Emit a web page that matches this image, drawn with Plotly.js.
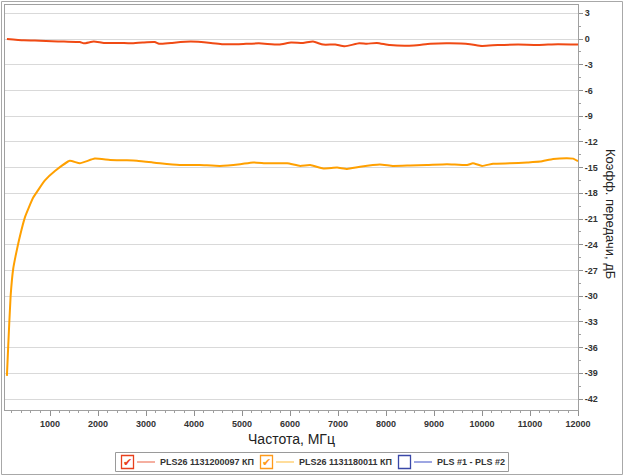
<!DOCTYPE html>
<html><head><meta charset="utf-8">
<script src="https://cdn.plot.ly/plotly-3.0.1.min.js"></script>
<style>html,body{margin:0;padding:0;background:#fff}</style>
</head><body><div id="chart" style="width:624px;height:476px"></div>
<script>
// Frequencies (MHz) and transfer coefficient (dB)
const freqRed = [100,450,790,1040,1290,1620,1700,1910,2120,2450,2680,2930,3180,3270,3520,3930,4350,4600,4930,5350,5770,6020,6270,6480,6690,6940,7140,7440,7600,7810,8080,8580,8920,9330,9750,10000,10330,10750,11170,11580,12000];
const gainRed = [0.0,-0.15,-0.2,-0.25,-0.3,-0.35,-0.5,-0.3,-0.45,-0.45,-0.5,-0.4,-0.35,-0.55,-0.45,-0.3,-0.45,-0.6,-0.6,-0.5,-0.65,-0.4,-0.45,-0.3,-0.65,-0.65,-0.85,-0.5,-0.55,-0.45,-0.7,-0.75,-0.55,-0.5,-0.6,-0.8,-0.7,-0.65,-0.7,-0.6,-0.65];

const freqOrange = [100,127,177,231,281,371,475,648,892,1100,1410,1620,1930,2250,2600,2810,3140,3290,3700,4120,4540,4960,5230,5520,5940,6210,6420,6690,6980,7190,7460,7870,8140,8500,8850,9270,9690,9810,10000,10230,10580,10940,11210,11480,11770,11900,12000];
const gainOrange = [-39.3,-35.8,-30.0,-26.8,-25.3,-23.0,-20.8,-18.5,-16.5,-15.4,-14.2,-14.5,-13.95,-14.1,-14.15,-14.2,-14.4,-14.5,-14.7,-14.7,-14.8,-14.6,-14.4,-14.5,-14.5,-14.8,-14.7,-15.1,-15.0,-15.15,-14.9,-14.65,-14.8,-14.75,-14.7,-14.6,-14.7,-14.5,-14.8,-14.55,-14.5,-14.4,-14.3,-14.0,-13.9,-13.95,-14.25];

const xTickVals = [1000,2000,3000,4000,5000,6000,7000,8000,9000,10000,11000,12000];
const xTickText = ['1000','2000','3000','4000','5000','6000','7000','8000','9000','10000','11000','12000'];
const yTickVals = [3,0,-3,-6,-9,-12,-15,-18,-21,-24,-27,-30,-33,-36,-39,-42];
const yTickText = ['3','0','-3','-6','-9','-12','-15','-18','-21','-24','-27','-30','-33','-36','-39','-42'];

const seriesNames = ['PLS26 1131200097 КП','PLS26 1131180011 КП','PLS #1 - PLS #2'];
const xTitle = 'Частота, МГц';
const yTitle = 'Коэфф. передачи, дБ';

const W=624,H=476,ML=5,MR=46,MT=5,MB=66;
const PW=W-ML-MR, PH=H-MT-MB;
const px=x=>(x-ML)/PW, py=y=>(H-MB-y)/PH;

const traces = [
 {x:freqRed,y:gainRed,mode:'lines',line:{color:'#F04A14',width:2,shape:'spline',smoothing:0.5},name:seriesNames[0],showlegend:false},
 {x:freqOrange,y:gainOrange,mode:'lines',line:{color:'#FFA000',width:2,shape:'spline',smoothing:0.4},name:seriesNames[1],showlegend:false}
];

const shapes = [
 {type:'rect',xref:'paper',yref:'paper',x0:px(1.5),x1:px(622.5),y0:py(474.5),y1:py(1.5),line:{color:'#a8a8a8',width:1}},
 {type:'rect',xref:'paper',yref:'paper',x0:px(115.5),x1:px(508.5),y0:py(471.5),y1:py(452.5),line:{color:'#9a9a9a',width:1},fillcolor:'#ffffff'}
];
const annotations = [
 {xref:'paper',yref:'paper',x:px(611),y:py(214),xanchor:'center',yanchor:'middle',text:yTitle,textangle:90,showarrow:false,font:{family:'Liberation Sans',size:13,color:'#222'}}
];
const items = [
 {cb:121,line:137,text:158,col:'#E8401C',lc:'#F29580',check:true},
 {cb:260,line:276,text:297,col:'#FF9A1A',lc:'#FFD27A',check:true},
 {cb:398,line:414,text:435,col:'#3A48A8',lc:'#7C88D8',check:false}
];
items.forEach((it,i)=>{
 shapes.push({type:'rect',xref:'paper',yref:'paper',x0:px(it.cb+0.5),x1:px(it.cb+12.5),y0:py(468.5),y1:py(455.5),line:{color:it.col,width:1.3}});
 shapes.push({type:'line',xref:'paper',yref:'paper',x0:px(it.line),x1:px(it.line+18),y0:py(462),y1:py(462),line:{color:it.lc,width:1.5}});
 if(it.check) annotations.push({xref:'paper',yref:'paper',x:px(it.cb+6.5),y:py(462.5),text:'✔',showarrow:false,font:{family:'DejaVu Sans',size:11,color:it.col},xanchor:'center',yanchor:'middle'});
 annotations.push({xref:'paper',yref:'paper',x:px(it.text),y:py(462),text:seriesNames[i],showarrow:false,xanchor:'left',yanchor:'middle',font:{family:'Liberation Sans',size:9,color:'#333',weight:'bold'}});
});

const layout = {
 width:W,height:H,margin:{l:ML,r:MR,t:MT,b:MB},
 paper_bgcolor:'#fff',plot_bgcolor:'#fff',showlegend:false,
 xaxis:{range:[60,12000],tickmode:'array',tickvals:xTickVals,ticktext:xTickText,ticks:'outside',ticklen:5,tickcolor:'#909090',
   showgrid:false,zeroline:false,showline:true,mirror:true,linecolor:'#a0a0a0',
   minor:{dtick:200,tick0:0,ticks:'outside',ticklen:2,tickcolor:'#a0a0a0'},
   tickfont:{family:'Liberation Sans',size:9,color:'#333',weight:'bold'},
   title:{text:xTitle,font:{family:'Liberation Sans',size:14,color:'#222'},standoff:6}},
 yaxis:{side:'right',range:[-43.28,3.97],tickmode:'array',tickvals:yTickVals,ticktext:yTickText,ticks:'outside',ticklen:4,tickcolor:'#909090',
   showgrid:true,gridcolor:'#d9d9d9',zeroline:false,showline:true,mirror:true,linecolor:'#a0a0a0',
   minor:{dtick:1.5,tick0:0,ticks:'outside',ticklen:2,tickcolor:'#a0a0a0',showgrid:false},
   tickfont:{family:'Liberation Sans',size:9,color:'#333',weight:'bold'}},
 shapes:shapes,annotations:annotations
};
Plotly.newPlot('chart',traces,layout,{staticPlot:true,displayModeBar:false});
</script></body></html>
